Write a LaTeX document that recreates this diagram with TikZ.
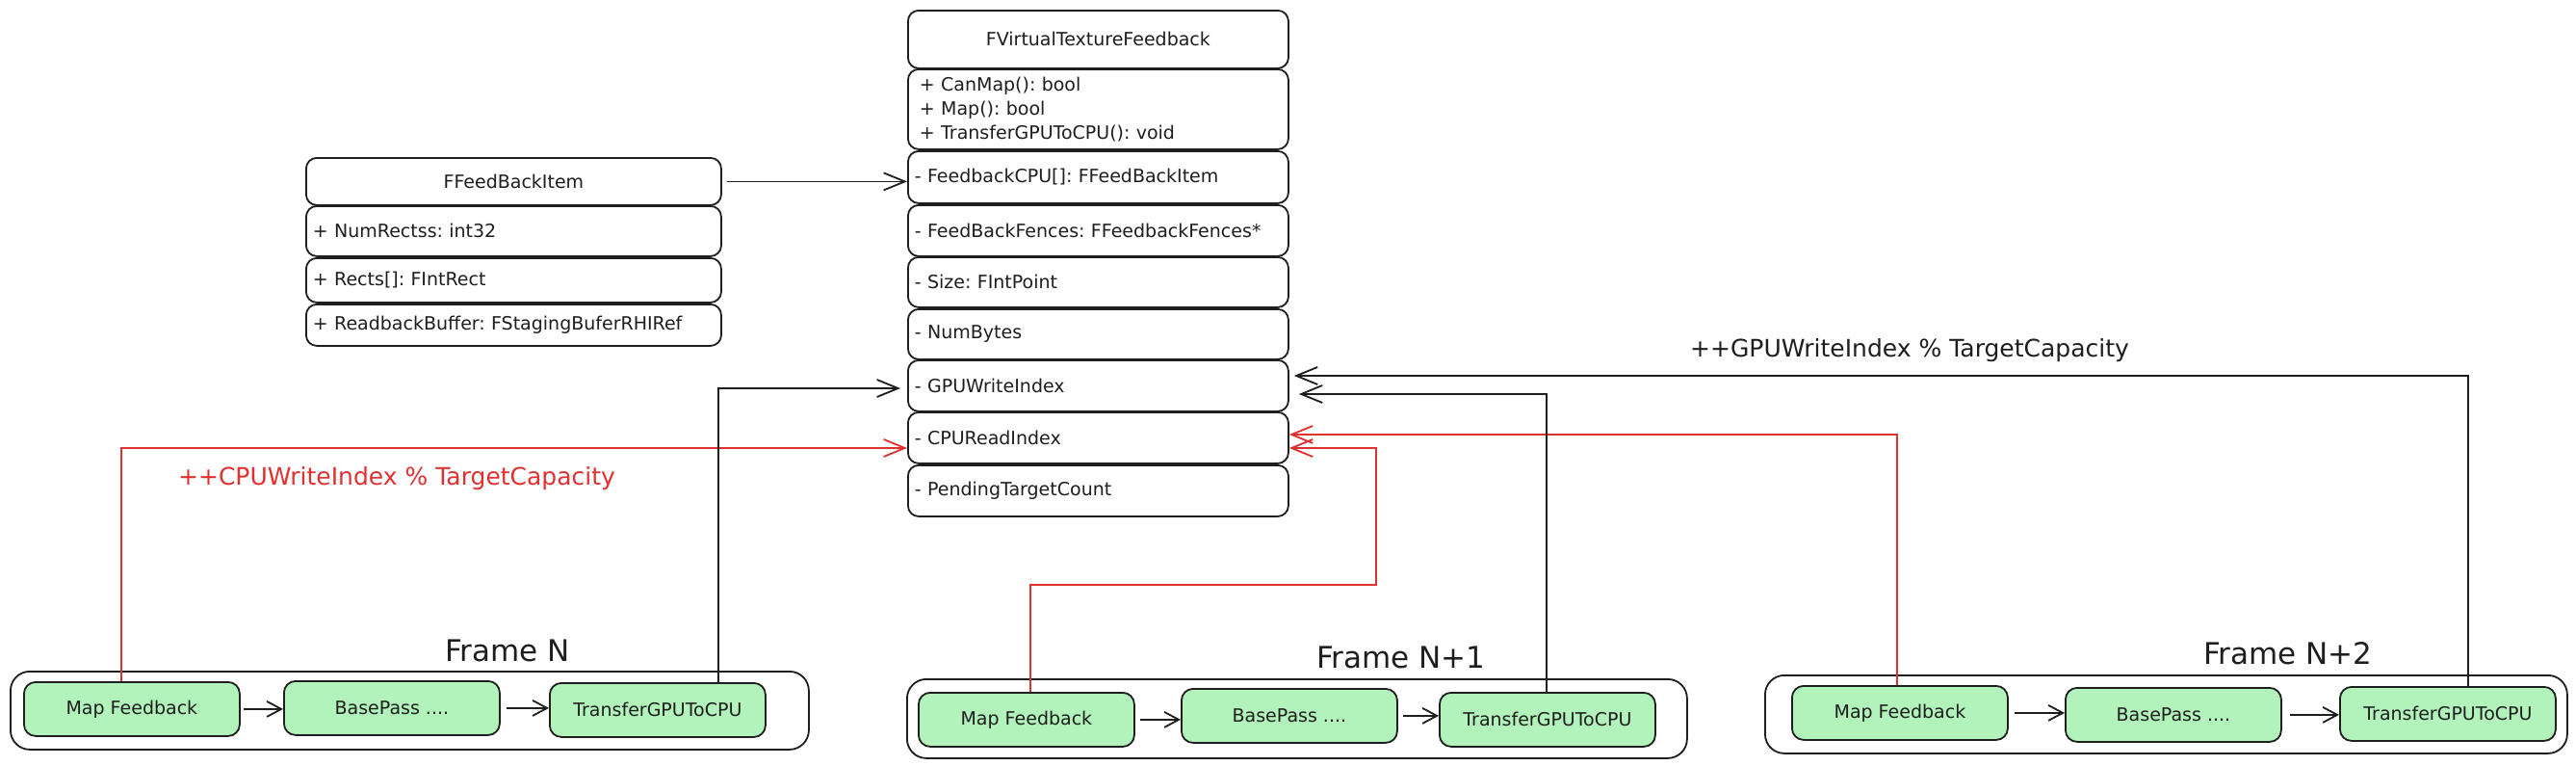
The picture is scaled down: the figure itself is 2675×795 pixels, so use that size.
\documentclass[tikz,border=0pt]{standalone}
\usepackage{fontspec}
\setmainfont{DejaVu Sans}
\usetikzlibrary{arrows.meta}
\definecolor{ink}{HTML}{1E1E1E}
\definecolor{fillg}{HTML}{B2F2BB}
\definecolor{redl}{HTML}{E03131}
\frenchspacing
\begin{document}
\begin{tikzpicture}[x=1pt,y=-1pt,
  box/.style={draw=ink, line width=1.8pt, rounded corners=11pt, inner ysep=0pt,
    anchor=north west, font=\fontsize{19}{25}\selectfont, text=ink},
  vhead/.style={box, minimum width=395pt, align=center},
  vrow/.style={box, minimum width=395pt, text width=381pt, inner xsep=7pt, align=left},
  lhead/.style={box, minimum width=431pt, align=center},
  lrow/.style={box, minimum width=431pt, text width=417pt, inner xsep=7pt, align=left},
  framebox/.style={draw=ink, line width=1.8pt, rounded corners=20pt, anchor=north west, inner sep=0pt},
  gbox/.style={draw=ink, fill=fillg, line width=1.8pt, rounded corners=12pt, anchor=north west,
    minimum width=224pt, minimum height=56pt, inner sep=0pt, font=\fontsize{19}{24}\selectfont, text=ink},
  framelbl/.style={anchor=base, font=\fontsize{31}{36}\selectfont, text=ink},
  lbl/.style={anchor=base, font=\fontsize{25}{30}\selectfont, text=ink},
  conn/.style={draw=ink, line width=1.8pt, -{Straight Barb[length=22pt,width=18pt]}},
  redconn/.style={conn, draw=redl},
  smallarr/.style={draw=ink, line width=1.8pt, -{Straight Barb[length=15pt,width=16pt]}}
]
\fill[white] (0,0) rectangle (2675,795);
\useasboundingbox (0,0) rectangle (2675,795);

% FFeedBackItem
\node[lhead, minimum height=49pt] (ffiH) at (317,163) {FFeedBackItem};
\node[lrow, minimum height=52pt] (ffi1) at (317,213) {+ NumRectss: int32};
\node[lrow, minimum height=46pt] (ffi2) at (317,267) {+ Rects[]: FIntRect};
\node[lrow, minimum height=43pt] (ffi3) at (317,315) {+ ReadbackBuffer: FStagingBuferRHIRef};

% FVirtualTextureFeedback
\node[vhead, minimum height=60pt] (vtf) at (942,10) {FVirtualTextureFeedback};
\node[box, minimum width=395pt, minimum height=83pt, text width=371pt, inner xsep=12pt, align=left] (vtfm) at (942,71)
  {+ CanMap(): bool\\+ Map(): bool\\+ TransferGPUToCPU(): void};
\node[vrow, minimum height=54pt] (r1) at (942,156) {- FeedbackCPU[]: FFeedBackItem};
\node[vrow, minimum height=53pt] (r2) at (942,212) {- FeedBackFences: FFeedbackFences*};
\node[vrow, minimum height=52pt] (r3) at (942,266) {- Size: FIntPoint};
\node[vrow, minimum height=52pt] (r4) at (942,320) {- NumBytes};
\node[vrow, minimum height=53pt] (r5) at (942,373) {- GPUWriteIndex};
\node[vrow, minimum height=53pt] (r6) at (942,427) {- CPUReadIndex};
\node[vrow, minimum height=53pt] (r7) at (942,482) {- PendingTargetCount};

\draw[conn, shorten <=5pt] (ffiH.east) -- (r1.west |- ffiH.east);

% Frame N
\node[framebox, minimum width=829pt, minimum height=81pt] (fN) at (10,696) {};
\node[gbox] (aN) at (24,707) {Map Feedback};
\node[gbox] (bN) at (294,706) {BasePass ....};
\node[gbox] (cN) at (570,708) {TransferGPUToCPU};
\node[framelbl] (lN) at (527,686) {Frame N};
\draw[smallarr] (aN.east) ++(3pt,0) coordinate (aNe) -- (bN.west |- aNe);
\draw[smallarr] (bN.east) ++(6pt,0) coordinate (bNe) -- (cN.west |- bNe);

% Frame N+1
\node[framebox, minimum width=810pt, minimum height=82pt] (fN1) at (941,704) {};
\node[gbox] (aN1) at (953,718) {Map Feedback};
\node[gbox] (bN1) at (1226,714) {BasePass ....};
\node[gbox] (cN1) at (1494,718) {TransferGPUToCPU};
\node[framelbl] (lN1) at (1455,693) {Frame N+1};
\draw[smallarr] (aN1.east) ++(5pt,0) coordinate (aN1e) -- (bN1.west |- aN1e);
\draw[smallarr] (bN1.east) ++(5pt,0) coordinate (bN1e) -- (cN1.west |- bN1e);

% Frame N+2
\node[framebox, minimum width=833pt, minimum height=81pt] (fN2) at (1832,700) {};
\node[gbox] (aN2) at (1860,711) {Map Feedback};
\node[gbox] (bN2) at (2144,713) {BasePass ....};
\node[gbox] (cN2) at (2429,712) {TransferGPUToCPU};
\node[framelbl] (lN2) at (2376,689) {Frame N+2};
\draw[smallarr] (aN2.east) ++(6pt,0) coordinate (aN2e) -- (bN2.west |- aN2e);
\draw[smallarr] (bN2.east) ++(8pt,0) coordinate (bN2e) -- (cN2.west |- bN2e);

% connectors to CPUReadIndex (red)
\coordinate (rN) at (126,465);
\draw[redconn] (aN.north -| rN) |- (r6.west |- rN);
\coordinate (rN1a) at (1070,607);
\coordinate (rN1b) at (1429,465);
\draw[redconn] (aN1.north -| rN1a) |- (rN1b |- rN1a) |- (r6.east |- rN1b);
\coordinate (rN2) at (1970,451);
\draw[redconn] (aN2.north -| rN2) |- (r6.east |- rN2);

% connectors to GPUWriteIndex (black)
\coordinate (bNp) at (746,403);
\draw[conn, shorten >=7pt] (cN.north -| bNp) |- (r5.west |- bNp);
\coordinate (bN1p) at (1606,409);
\draw[conn, shorten >=10pt] (cN1.north -| bN1p) |- (r5.east |- bN1p);
\coordinate (bN2p) at (2563,390);
\draw[conn, shorten >=5pt] (cN2.north -| bN2p) |- (r5.east |- bN2p);

% labels
\node[lbl, text=redl] (redlbl) at (412,503) {++CPUWriteIndex \% TargetCapacity};
\node[lbl] (blklbl) at (1983,370) {++GPUWriteIndex \% TargetCapacity};
\end{tikzpicture}
\end{document}
